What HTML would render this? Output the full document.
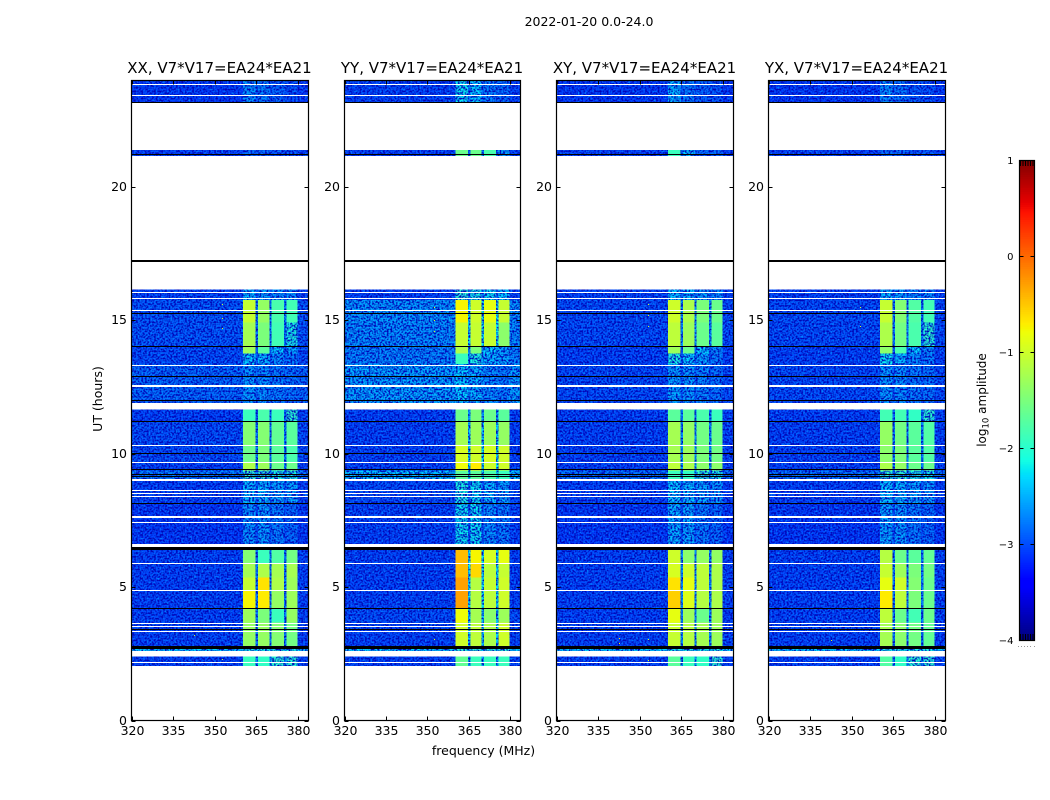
<!DOCTYPE html>
<html>
<head>
<meta charset="utf-8">
<title>2022-01-20 amplitude waterfall</title>
<style>
html,body{margin:0;padding:0;background:#fff;}
svg{display:block;}
text{font-family:"DejaVu Sans","Liberation Sans",sans-serif;fill:#000;}
</style>
</head>
<body>
<svg id="chart" xmlns="http://www.w3.org/2000/svg" width="1050" height="800" viewBox="0 0 1050 800">
  <defs>
    <filter id="speckle" filterUnits="userSpaceOnUse" x="0" y="0" width="1050" height="800" color-interpolation-filters="sRGB">
      <feTurbulence type="fractalNoise" baseFrequency="0.55" numOctaves="1" seed="4" result="n"/>
      <feColorMatrix in="n" type="matrix" values="0 0 0 0 0  0 0 0 0 0.55  0 0 0 0 1  3.2 0 0 0 -1.6" result="lightA"/>
      <feComposite in="lightA" in2="SourceAlpha" operator="in" result="light"/>
      <feColorMatrix in="n" type="matrix" values="0 0 0 0 0  0 0 0 0 0.02  0 0 0 0 0.72  0 3.6 0 0 -1.45" result="darkA"/>
      <feComposite in="darkA" in2="SourceAlpha" operator="in" result="dark"/>
      <feMerge><feMergeNode in="SourceGraphic"/><feMergeNode in="light"/><feMergeNode in="dark"/></feMerge>
    </filter>
  </defs>
  <text x="589" y="26" text-anchor="middle" font-size="12.5">2022-01-20 0.0-24.0</text>
  <text x="0" y="0" text-anchor="middle" font-size="12.5" transform="translate(102,399) rotate(-90)">UT (hours)</text>
  <text x="483.5" y="755" text-anchor="middle" font-size="12.5">frequency (MHz)</text>
  <text x="0" y="0" text-anchor="middle" font-size="12" transform="translate(986,400) rotate(-90)">log<tspan font-size="8.5" dy="2.5">10</tspan><tspan dy="-2.5"> amplitude</tspan></text>
  <g id="panels"></g>
  <g id="colorbar"></g>
</svg>
<script>
// ---- data (frequency in MHz, time in UT hours, value in log10 amplitude) ----
var panelTitles = ['XX, V7*V17=EA24*EA21', 'YY, V7*V17=EA24*EA21', 'XY, V7*V17=EA24*EA21', 'YX, V7*V17=EA24*EA21'];
var xTickValues = [320, 335, 350, 365, 380];
var yTickValues = [0, 5, 10, 15, 20];
var colorTickValues = [1, 0, -1, -2, -3, -4];
var colorTickLabels = ['1', '0', '\u22121', '\u22122', '\u22123', '\u22124'];

// frequency column edges: start, band1 end, band2 start/end, band3 start/end, band4 start/end
var bandEdges = [360.2, 364.7, 365.6, 369.7, 370.5, 375, 375.8, 379.8];

// time rows: top and bottom hour
var rowTop =    [24, 21.39, 16.17, 15.76, 14.93, 14.03, 13.77, 13.36, 11.67, 11.22, 10.32, 9.68, 9.38, 9.04, 8.14, 6.42, 5.89, 5.37, 4.88, 4.20, 3.68, 2.74, 2.40];
var rowBottom = [23.19, 21.16, 15.76, 14.93, 14.03, 13.77, 13.36, 11.89, 11.22, 10.32, 9.68, 9.38, 9.04, 8.14, 6.60, 5.89, 5.37, 4.88, 4.20, 3.68, 2.74, 2.59, 2.03];

// each row: background, band1, band2, band3, band4, notch
var valuesXX = [
 [-3.05,-2.6,-2.7,-2.85,-2.95,-2.9],[-3.0,-2.8,-2.8,-2.9,-2.9,-2.9],[-3.0,-2.4,-2.5,-2.6,-2.6,-2.9],
 [-2.9,-1.05,-1.35,-1.8,-1.85,-2.7],[-2.9,-1.25,-1.5,-1.85,-2.1,-2.7],[-2.95,-1.3,-1.7,-2.3,-2.5,-2.9],[-2.95,-2.3,-2.4,-2.6,-2.7,-2.9],
 [-2.8,-2.55,-2.6,-2.7,-2.75,-2.8],[-3.0,-1.9,-1.8,-1.9,-2.0,-2.8],[-2.95,-1.45,-1.45,-1.65,-1.7,-2.7],
 [-2.95,-1.6,-1.5,-1.7,-1.8,-2.7],[-3.0,-1.2,-1.3,-1.6,-1.6,-2.7],[-2.7,-2.0,-2.0,-2.1,-2.1,-2.6],
 [-3.0,-2.4,-2.4,-2.5,-2.5,-2.9],[-3.05,-2.6,-2.55,-2.7,-2.8,-2.95],[-3.0,-1.45,-1.9,-1.75,-1.55,-2.7],
 [-3.0,-1.25,-1.2,-1.25,-1.25,-2.7],[-3.0,-1.05,-0.65,-1.2,-1.3,-2.7],[-3.0,-0.75,-0.7,-1.35,-1.3,-2.7],
 [-3.0,-1.3,-1.5,-1.9,-1.35,-2.7],[-3.0,-1.35,-1.35,-1.45,-1.55,-2.7],[-2.3,-2.1,-2.1,-2.1,-2.1,-2.3],
 [-3.0,-1.9,-1.95,-2.0,-2.0,-2.7]
];
var valuesYY = [
 [-3.0,-2.2,-2.3,-2.7,-2.8,-2.8],[-3.0,-1.6,-1.6,-1.8,-2.5,-2.8],[-3.0,-2.0,-2.1,-2.2,-2.3,-2.8],
 [-2.55,-0.75,-1.0,-0.85,-1.05,-2.2],[-2.6,-1.05,-1.05,-1.05,-1.4,-2.2],[-2.65,-1.2,-1.5,-2.3,-2.5,-2.5],[-2.65,-1.9,-2.1,-2.4,-2.5,-2.5],
 [-2.5,-2.3,-2.4,-2.6,-2.7,-2.6],[-3.0,-1.6,-1.5,-1.6,-1.7,-2.5],[-3.0,-1.25,-1.3,-1.3,-1.35,-2.3],
 [-3.0,-0.95,-1.0,-0.95,-1.0,-2.2],[-3.0,-0.8,-0.7,-1.0,-1.0,-2.2],[-2.35,-1.7,-1.7,-1.8,-1.9,-2.2],
 [-2.95,-2.1,-2.2,-2.4,-2.5,-2.9],[-3.0,-2.2,-2.2,-2.6,-2.7,-2.9],[-3.0,-0.45,-0.75,-0.95,-0.85,-2.2],
 [-3.0,-0.45,-0.6,-1.1,-1.05,-2.2],[-3.0,-0.3,-1.15,-1.05,-1.0,-2.2],[-3.0,-0.3,-1.15,-1.1,-1.0,-2.2],
 [-2.95,-0.8,-1.25,-1.4,-1.3,-2.3],[-3.0,-1.0,-1.1,-1.2,-1.0,-2.3],[-2.3,-2.0,-2.0,-2.0,-2.0,-2.3],
 [-3.0,-1.65,-1.9,-1.9,-1.9,-2.5]
];
var valuesXY = [
 [-3.05,-2.4,-2.7,-2.85,-2.9,-2.9],[-3.0,-1.9,-2.3,-2.8,-2.8,-2.9],[-3.0,-2.3,-2.4,-2.5,-2.6,-2.9],
 [-2.95,-1.0,-1.2,-1.5,-1.6,-2.6],[-2.95,-1.1,-1.3,-1.6,-1.7,-2.6],[-3.0,-1.3,-1.6,-2.3,-2.6,-2.9],[-3.0,-2.1,-2.3,-2.5,-2.7,-2.9],
 [-2.95,-2.5,-2.55,-2.65,-2.75,-2.9],[-3.0,-1.7,-1.7,-1.8,-1.9,-2.7],[-3.0,-1.25,-1.35,-1.55,-1.6,-2.6],
 [-3.0,-1.25,-1.3,-1.5,-1.55,-2.6],[-3.0,-1.1,-1.2,-1.4,-1.4,-2.6],[-2.75,-1.9,-1.95,-2.0,-2.1,-2.6],
 [-3.0,-2.3,-2.4,-2.5,-2.55,-2.9],[-3.05,-2.45,-2.5,-2.7,-2.8,-2.95],[-3.0,-1.0,-1.4,-1.35,-1.35,-2.6],
 [-3.0,-0.95,-1.0,-1.1,-1.2,-2.6],[-3.0,-0.65,-0.85,-1.1,-1.2,-2.6],[-3.0,-0.55,-0.9,-1.15,-1.2,-2.6],
 [-3.0,-0.85,-1.3,-1.6,-1.3,-2.6],[-3.0,-1.05,-1.15,-1.25,-1.3,-2.6],[-2.3,-2.1,-2.1,-2.1,-2.1,-2.3],
 [-3.0,-1.7,-1.9,-1.95,-2.0,-2.6]
];
var valuesYX = [
 [-3.05,-2.6,-2.75,-2.9,-2.95,-2.9],[-3.0,-2.8,-2.8,-2.9,-2.9,-2.9],[-3.0,-2.4,-2.5,-2.6,-2.6,-2.9],
 [-2.95,-1.05,-1.45,-1.75,-1.85,-2.7],[-2.95,-1.2,-1.55,-1.8,-2.0,-2.7],[-3.0,-1.4,-1.8,-2.3,-2.6,-2.9],[-3.0,-2.2,-2.4,-2.6,-2.7,-2.9],
 [-2.95,-2.55,-2.6,-2.7,-2.75,-2.9],[-3.0,-1.85,-1.85,-1.95,-2.0,-2.8],[-3.0,-1.35,-1.55,-1.7,-1.75,-2.7],
 [-3.0,-1.4,-1.5,-1.7,-1.75,-2.7],[-3.0,-1.2,-1.35,-1.6,-1.6,-2.7],[-2.75,-2.0,-2.0,-2.1,-2.15,-2.6],
 [-3.0,-2.35,-2.4,-2.5,-2.55,-2.9],[-3.05,-2.5,-2.55,-2.7,-2.8,-2.95],[-3.0,-1.15,-1.6,-1.7,-1.65,-2.7],
 [-3.0,-1.05,-1.3,-1.5,-1.55,-2.7],[-3.0,-0.85,-1.0,-1.45,-1.6,-2.7],[-3.0,-0.7,-1.1,-1.5,-1.6,-2.7],
 [-3.0,-1.1,-1.6,-1.85,-1.6,-2.7],[-3.0,-1.25,-1.4,-1.55,-1.65,-2.7],[-2.3,-2.1,-2.1,-2.1,-2.1,-2.3],
 [-3.0,-1.75,-1.95,-2.0,-2.0,-2.7]
];
var panelValues = [valuesXX, valuesYY, valuesXY, valuesYX];

// flagged (no data) time ranges, shown white
var flagTop =    [23.88, 23.47, 16.06, 15.84, 15.38, 13.34, 12.59, 12.53, 11.89, 10.32, 9.68, 9.04, 8.63, 8.52, 8.41, 7.65, 7.43, 6.60, 5.89, 4.88, 3.65, 3.53, 3.36, 2.59, 2.21, 2.06];
var flagBottom = [23.85, 23.44, 16.03, 15.81, 15.34, 13.31, 12.56, 12.50, 11.73, 10.29, 9.65, 8.98, 8.60, 8.49, 8.38, 7.58, 7.40, 6.57, 5.86, 4.85, 3.62, 3.50, 3.31, 2.40, 2.18, 2.03];

// dropped-out time ranges, shown black
var dropTop =    [23.20, 21.23, 17.27, 15.28, 14.05, 12.93, 12.03, 11.23, 10.03, 9.44, 9.24, 9.16, 8.17, 6.51, 4.22, 3.44, 2.80];
var dropBottom = [23.17, 21.20, 17.21, 15.25, 14.01, 12.90, 11.99, 11.20, 10.00, 9.41, 9.21, 9.11, 8.13, 6.41, 4.19, 3.41, 2.70];

// isolated bright samples
var spikePanel = [0, 0, 0, 0, 0, 1, 1, 1, 1, 1, 2, 2, 2, 2, 2, 2, 2, 3, 3, 3, 3];
var spikeFreq =  [352.5, 352.5, 352.5, 342.5, 352.5, 352.5, 352.5, 352.5, 352.5, 352.5, 353, 353, 353, 342.5, 342.5, 353, 353, 353, 353, 342.5, 353];
var spikeHour =  [15.6, 15.1, 14.7, 3.2, 2.3, 15.5, 15.0, 14.6, 3.05, 2.2, 15.6, 15.2, 14.8, 3.1, 2.9, 3.05, 2.25, 15.5, 14.8, 3.0, 2.2];
var spikeValue = [-1, -1, -1, -0.9, -1, -0.8, -0.9, -0.9, -0.8, -0.9, -1, -1, -1, -0.7, -0.7, -0.9, -0.9, -1, -1, -1, -1];

// ---- axes ----
var panelLeft = [131.5, 344.5, 556.5, 768.5];
var panelRight = [308.5, 520.5, 733.5, 945.5];
var xEndFreq = 383.8;
var svg = document.getElementById('chart');
var NS = 'http://www.w3.org/2000/svg';
function xScale(panel, f) { return panelLeft[panel] + (f - 320) * (panelRight[panel] - panelLeft[panel]) / (xEndFreq - 320); }
function yScale(h) { return 720.5 - h * 26.667; }
var plotTop = yScale(24), plotBottom = yScale(0);
function cScale(v) { return 640 - (v + 4) * 96; }

function ramp(t, pts) {
  for (var i = 1; i < pts.length; i++) {
    if (t <= pts[i][0]) {
      var a = pts[i - 1], b = pts[i];
      return a[1] + (b[1] - a[1]) * (t - a[0]) / (b[0] - a[0]);
    }
  }
  return pts[pts.length - 1][1];
}
function jet(v) {
  var t = Math.max(0, Math.min(1, (v + 4) / 5));
  var r = ramp(t, [[0, 0], [0.35, 0], [0.66, 1], [0.89, 1], [1, 0.5]]);
  var g = ramp(t, [[0, 0], [0.125, 0], [0.375, 1], [0.64, 1], [0.91, 0], [1, 0]]);
  var b = ramp(t, [[0, 0.5], [0.11, 1], [0.34, 1], [0.65, 0], [1, 0]]);
  return 'rgb(' + Math.round(r * 255) + ',' + Math.round(g * 255) + ',' + Math.round(b * 255) + ')';
}
function rect(parent, x, y, w, h, fill) {
  var el = document.createElementNS(NS, 'rect');
  el.setAttribute('x', x);
  el.setAttribute('y', y);
  el.setAttribute('width', w);
  el.setAttribute('height', h);
  el.setAttribute('fill', fill);
  el.setAttribute('shape-rendering', 'crispEdges');
  parent.appendChild(el);
  return el;
}
function line(parent, x1, y1, x2, y2, color) {
  var el = document.createElementNS(NS, 'line');
  el.setAttribute('x1', x1);
  el.setAttribute('y1', y1);
  el.setAttribute('x2', x2);
  el.setAttribute('y2', y2);
  el.setAttribute('stroke', color || '#000');
  el.setAttribute('stroke-width', '1');
  parent.appendChild(el);
  return el;
}
function label(parent, x, y, anchor, size, str) {
  var el = document.createElementNS(NS, 'text');
  el.setAttribute('x', x);
  el.setAttribute('y', y);
  el.setAttribute('text-anchor', anchor);
  el.setAttribute('font-size', size);
  el.textContent = str;
  parent.appendChild(el);
  return el;
}
function timeBand(parent, left, right, hTop, hBottom, color) {
  var y0 = Math.round(yScale(hTop));
  var hgt = Math.max(1, Math.round(yScale(hBottom) - yScale(hTop)));
  return rect(parent, left, y0, right - left, hgt, color);
}

var panelsRoot = document.getElementById('panels');
panelTitles.forEach(function (title, p) {
  var left = xScale(p, 320), right = xScale(p, xEndFreq);

  var g = document.createElementNS(NS, 'g');
  
  
  panelsRoot.appendChild(g);

  var noisy = document.createElementNS(NS, 'g');
  noisy.setAttribute('filter', 'url(#speckle)');
  
  
  g.appendChild(noisy);

  var solid = document.createElementNS(NS, 'g');
  
  
  g.appendChild(solid);

  panelValues[p].forEach(function (row, r) {
    var y0 = yScale(rowTop[r]), y1 = yScale(rowBottom[r]);
    // column layout: bg | b1 | notch | b2 | notch | b3 | notch | b4 | bg
    var cols = [
      [320, bandEdges[0], row[0]],
      [bandEdges[0], bandEdges[1], row[1]],
      [bandEdges[1], bandEdges[2], row[5]],
      [bandEdges[2], bandEdges[3], row[2]],
      [bandEdges[3], bandEdges[4], row[5]],
      [bandEdges[4], bandEdges[5], row[3]],
      [bandEdges[5], bandEdges[6], row[5]],
      [bandEdges[6], bandEdges[7], row[4]],
      [bandEdges[7], xEndFreq, row[0]]
    ];
    cols.forEach(function (c) {
      var x0 = xScale(p, c[0]), x1 = xScale(p, c[1]);
      var cell = rect(c[2] < -1.95 ? noisy : solid, x0, y0, x1 - x0, y1 - y0, jet(c[2]));
      
      
    });
  });

  spikePanel.forEach(function (sp, i) {
    if (sp !== p) return;
    var dot = rect(g, Math.round(xScale(p, spikeFreq[i])), Math.round(yScale(spikeHour[i])), 1, 1, jet(spikeValue[i]));
    
    
  });

  flagTop.forEach(function (h, i) {
    var el = timeBand(g, left, right, h, flagBottom[i], '#fff');
    
    
  });
  dropTop.forEach(function (h, i) {
    var el = timeBand(g, left, right, h, dropBottom[i], '#000');
    
    
  });

  var frame = document.createElementNS(NS, 'rect');
  frame.setAttribute('x', left);
  frame.setAttribute('y', plotTop);
  frame.setAttribute('width', right - left);
  frame.setAttribute('height', plotBottom - plotTop);
  frame.setAttribute('fill', 'none');
  frame.setAttribute('stroke', '#000');
  frame.setAttribute('stroke-width', '1.2');
  
  
  g.appendChild(frame);

  xTickValues.forEach(function (f) {
    var x = Math.round(xScale(p, f)) + 0.5;
    var a = line(g, x, plotBottom, x, plotBottom - 4);
    
    
    var b = line(g, x, plotTop, x, plotTop + 4);
    
    
    var t = label(g, x, 735, 'middle', 12.5, String(f));
    
    
  });
  yTickValues.forEach(function (h) {
    var y = Math.round(yScale(h)) + 0.5;
    var a = line(g, left, y, left + 4, y);
    
    
    var b = line(g, right, y, right - 4, y);
    
    
    var t = label(g, left - 4.5, y + 3.5, 'end', 12.5, String(h));
    
    
  });

  var head = label(g, (left + right) / 2 - 0.5, 73, 'middle', 15, title);
  
  
});

// ---- colorbar ----
var cbar = document.getElementById('colorbar');
var cbLeft = 1019.5, cbRight = 1034.5;
for (var i = 0; i < 256; i++) {
  var vTop = 1 - i * 5 / 256;
  var vBot = 1 - (i + 1) * 5 / 256;
  var seg = rect(cbar, cbLeft, cScale(vTop), cbRight - cbLeft, cScale(vBot) - cScale(vTop) + 0.5, jet((vTop + vBot) / 2));
  
  
}
var cbFrame = document.createElementNS(NS, 'rect');
cbFrame.setAttribute('x', cbLeft);
cbFrame.setAttribute('y', cScale(1) + 0.5);
cbFrame.setAttribute('width', cbRight - cbLeft);
cbFrame.setAttribute('height', cScale(-4) - cScale(1));
cbFrame.setAttribute('fill', 'none');
cbFrame.setAttribute('stroke', '#000');
cbFrame.setAttribute('stroke-width', '1.2');


cbar.appendChild(cbFrame);

colorTickValues.forEach(function (v, i) {
  var y = cScale(v) + 0.5;
  var a = line(cbar, cbLeft, y, cbLeft + 4, y);
  
  
  var b = line(cbar, cbRight, y, cbRight - 4, y);
  
  
  var t = label(cbar, cbLeft - 6, y + 3.5, 'end', 10, colorTickLabels[i]);
  
  
});
for (var k = 0; k < 6; k++) {
  var xk = cbLeft + 1 + k * 2.5;
  var topMark = line(cbar, xk, cScale(1), xk, cScale(1) + 6);
  
  
  var botMark = line(cbar, xk, cScale(-4), xk, cScale(-4) - 6);
  
  
  var dotMark = rect(cbar, Math.round(cbLeft - 2 + k * 3.2), 646, 1, 1, '#999');
  
  
}
</script>
</body>
</html>
